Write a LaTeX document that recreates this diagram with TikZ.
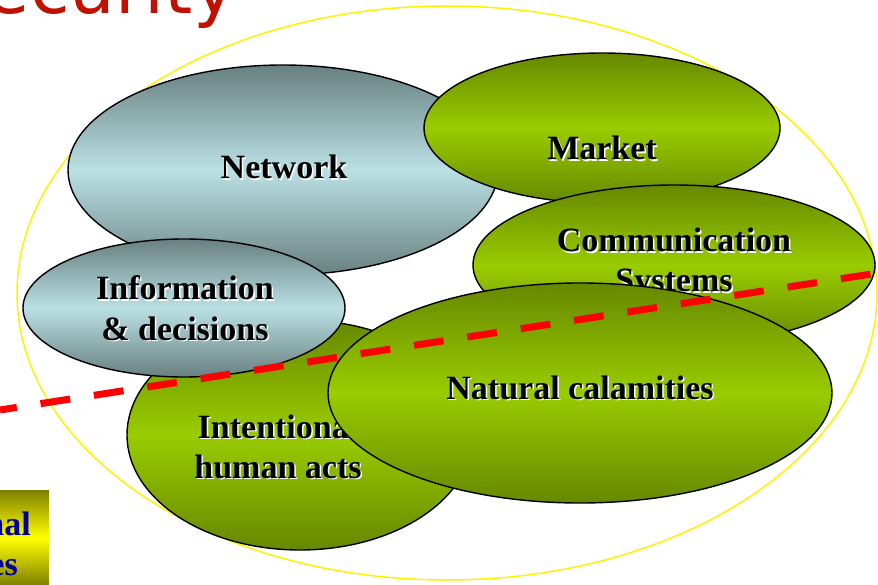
\documentclass[tikz,border=0pt]{standalone}
\usepackage{fontspec}
\setmainfont{Liberation Serif}
\newfontfamily\titlefont{DejaVu Sans}
\usetikzlibrary{shapes.geometric}
\definecolor{olive1}{RGB}{102,136,0}
\definecolor{lime1}{RGB}{153,204,0}
\definecolor{slate1}{RGB}{104,128,128}
\definecolor{ice1}{RGB}{186,224,228}
\definecolor{titlered}{RGB}{192,16,0}
\definecolor{navy1}{RGB}{0,0,150}
\definecolor{mustard}{RGB}{128,128,0}

\begin{document}
\begin{tikzpicture}[x=1pt,y=-1pt,
    blob/.style = {ellipse,draw=black,line width=1.4pt,inner sep=0pt,outer sep=0pt},
    blueblob/.style = {top color=slate1,bottom color=slate1,middle color=ice1},
    greenblob/.style = {top color=olive1,bottom color=olive1,middle color=lime1},
    caption/.style = {font=\bfseries\fontsize{34}{40}\selectfont,align=center,anchor=base,inner sep=0pt}]
\useasboundingbox (0,0) rectangle (878,585);
\draw[yellow,line width=1.5pt] (447,293) ellipse [x radius=430,y radius=287];
\node[font=\titlefont\fontsize{72}{74}\selectfont,text=titlered,anchor=base east,inner sep=0pt] (title) at (236,14) {Security};
\foreach \n/\x/\y/\a/\b/\s/\tx/\ty/\t in {
    network/283/170/215/105/blueblob/284/179/{Network},
    market/602/128/178/75/greenblob/602/160/{Market},
    comm/674/265/201/80/greenblob/674/292/{Communication\\Systems},
    acts/300/435/173/115/greenblob/278/478/{Intentional\\human acts},
    info/184/308/161/69/blueblob/185/340/{Information\\\& decisions},
    nature/580/393/252/110/greenblob/580/399/{Natural calamities}}
{
    \node[blob,\s,minimum width=2*\a,minimum height=2*\b] (\n) at (\x,\y) {};
    \node[caption,white,xshift=1.5pt,yshift=-1.5pt] (\n-sh) at (\tx,\ty) {\t};
    \node[caption] (\n-txt) at (\tx,\ty) {\t};
}
\coordinate (cutA) at (0,410);
\coordinate (cutB) at (878,273);
\draw[red,line width=7pt,dash pattern=on 30pt off 24pt,dash phase=13pt] (cutA) -- (cutB);
\node[rectangle,anchor=north west,inner sep=0pt,minimum width=49,minimum height=95,
    top color=mustard,bottom color=mustard,middle color=yellow] (extbox) at (0,490) {};
\node[font=\bfseries\fontsize{34}{40}\selectfont,text=navy1,anchor=base east,inner sep=0pt] (extline1) at (31,535) {nal};
\node[font=\bfseries\fontsize{34}{40}\selectfont,text=navy1,anchor=base east,inner sep=0pt] (extline2) at (18,575) {es};
\end{tikzpicture}
\end{document}
